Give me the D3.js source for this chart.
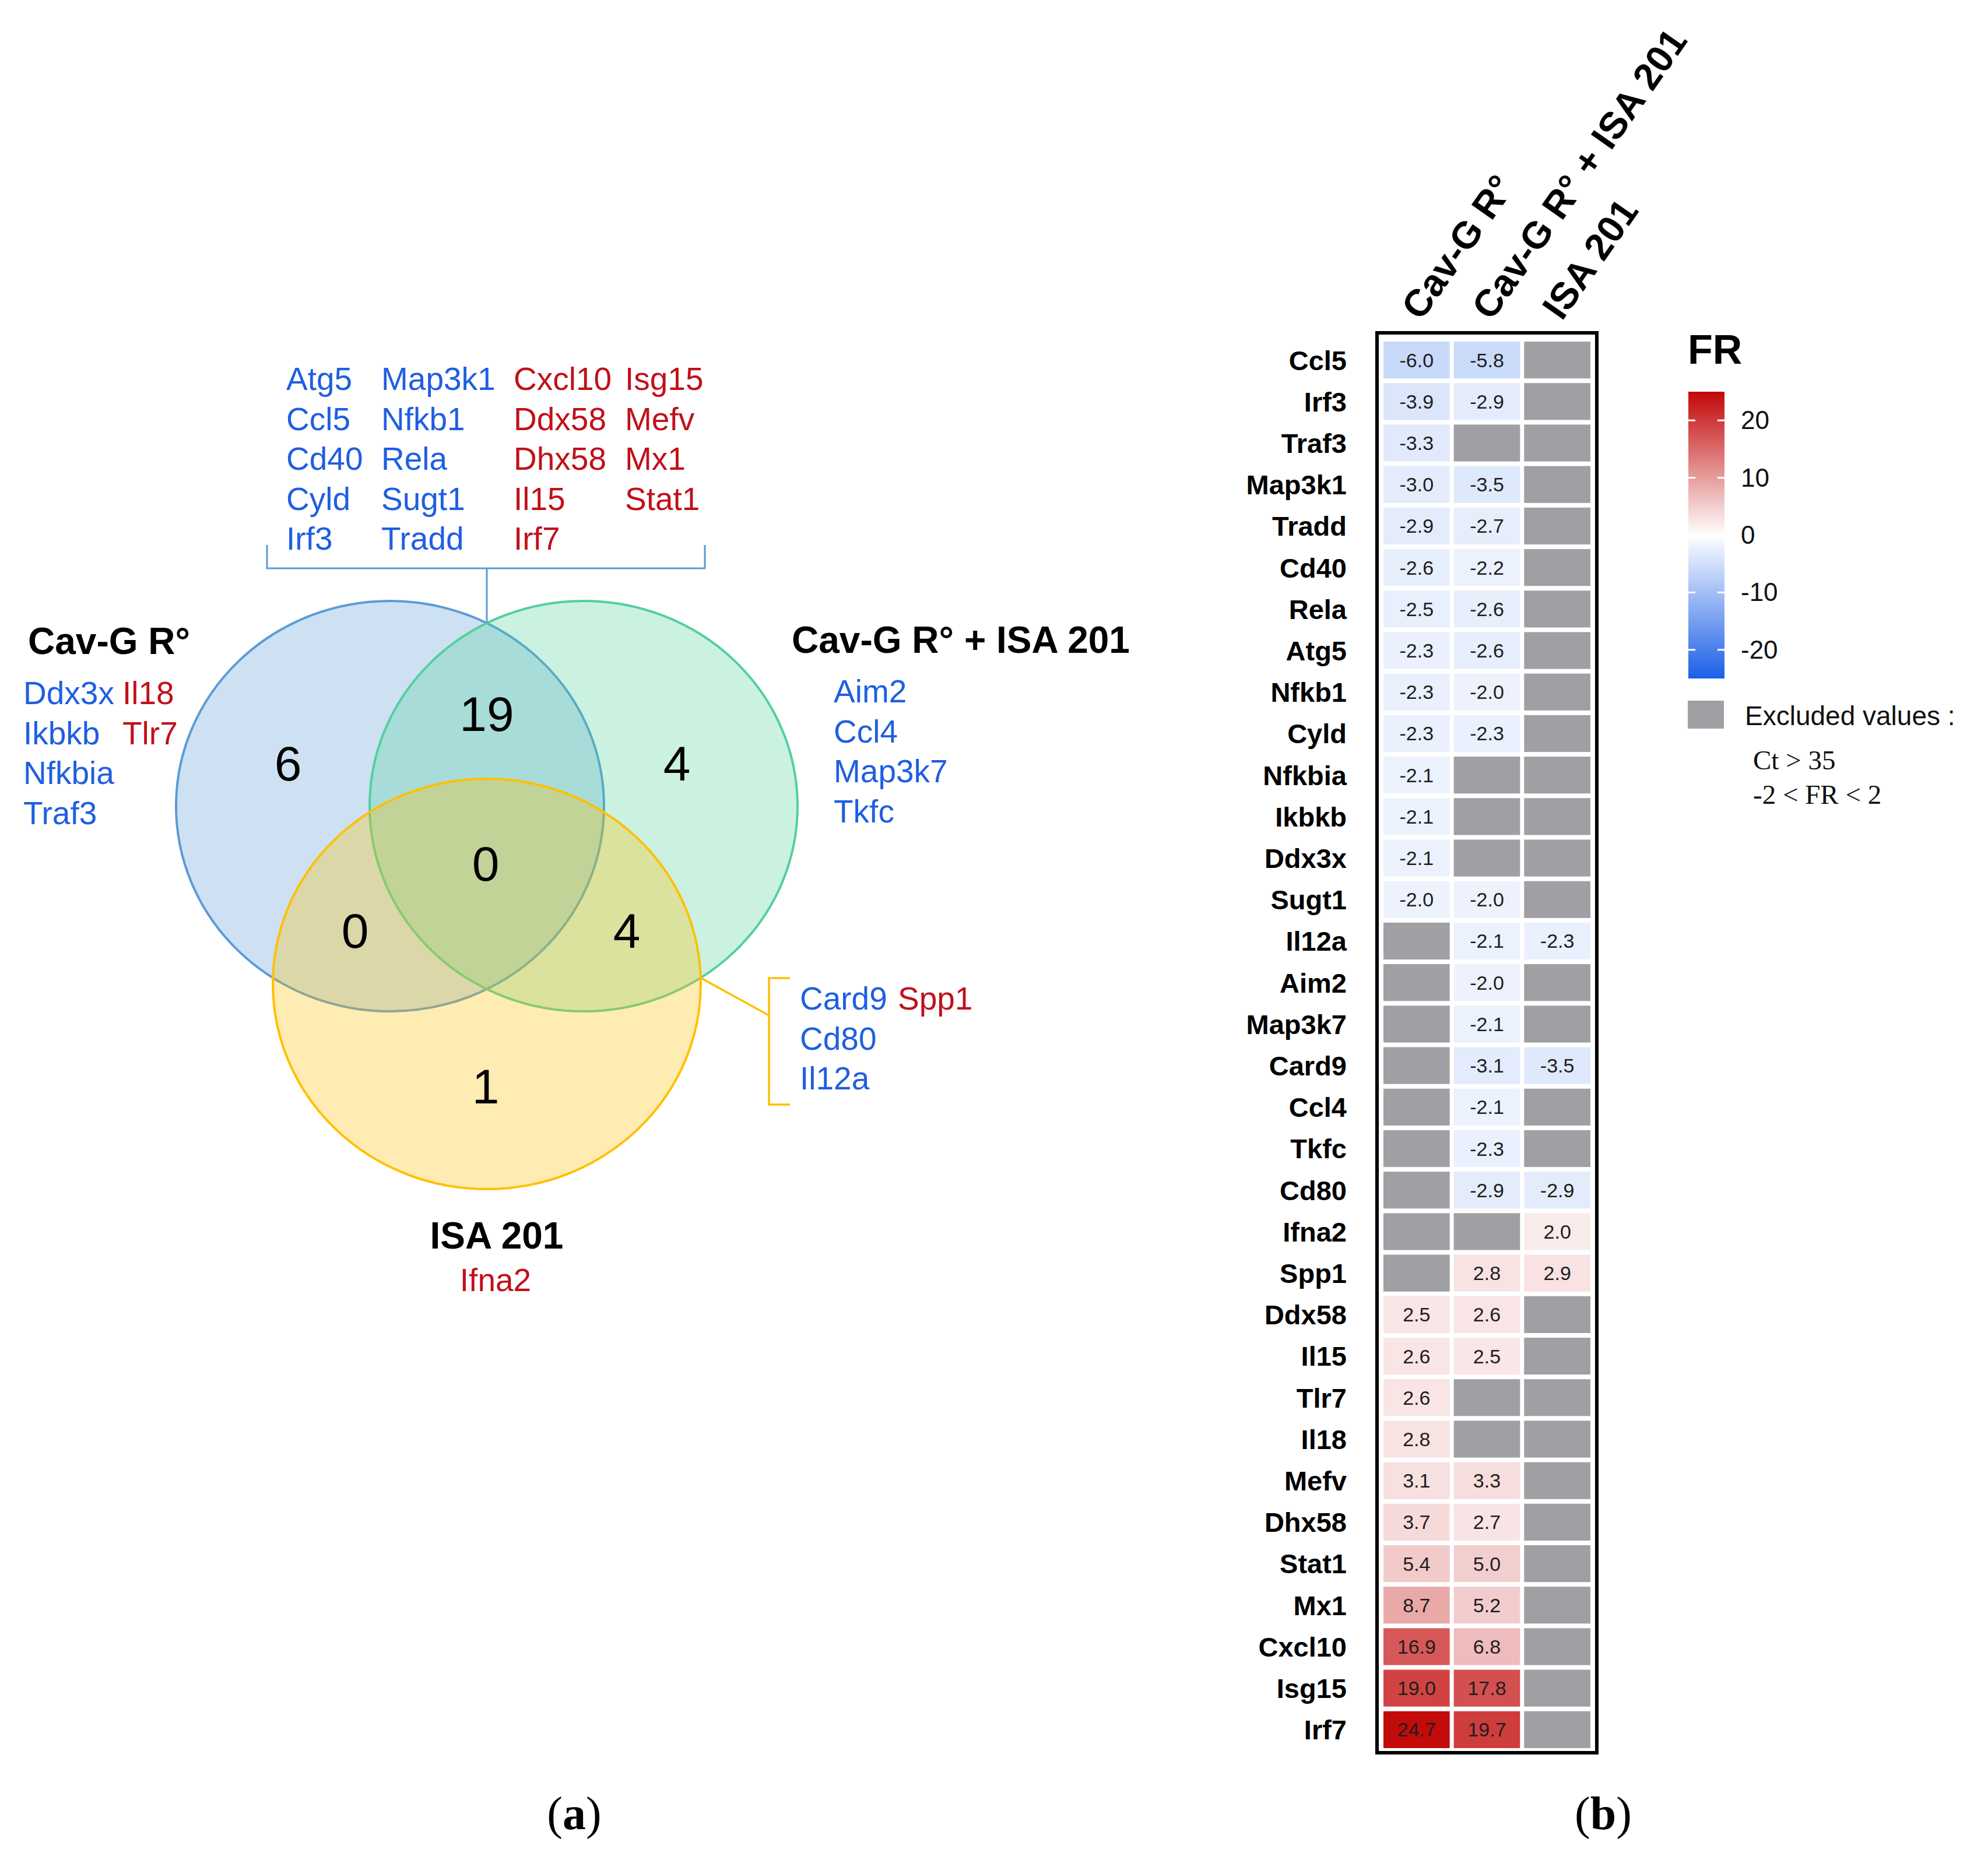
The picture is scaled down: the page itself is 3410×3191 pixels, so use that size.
<!DOCTYPE html>
<html>
<head>
<meta charset="utf-8">
<script src="https://cdn.jsdelivr.net/npm/d3@7"></script>
<style>
body { margin: 0; background: #fff; overflow: hidden; }
text { font-family: "Liberation Sans", Arial, sans-serif; }
text.serif { font-family: "Liberation Serif", "Times New Roman", serif; }
</style>
</head>
<body>
<div class="canva"></div>
<script>
// ---- heatmap data (b) ----
const genes = ["Ccl5","Irf3","Traf3","Map3k1","Tradd","Cd40","Rela","Atg5","Nfkb1","Cyld",
  "Nfkbia","Ikbkb","Ddx3x","Sugt1","Il12a","Aim2","Map3k7","Card9","Ccl4","Tkfc","Cd80",
  "Ifna2","Spp1","Ddx58","Il15","Tlr7","Il18","Mefv","Dhx58","Stat1","Mx1","Cxcl10","Isg15","Irf7"];
const conditions = ["Cav-G R°", "Cav-G R° + ISA 201", "ISA 201"];
// null = excluded value
const frCavG = [-6.0,-3.9,-3.3,-3.0,-2.9,-2.6,-2.5,-2.3,-2.3,-2.3,
  -2.1,-2.1,-2.1,-2.0,null,null,null,null,null,null,null,
  null,null,2.5,2.6,2.6,2.8,3.1,3.7,5.4,8.7,16.9,19.0,24.7];
const frCombo = [-5.8,-2.9,null,-3.5,-2.7,-2.2,-2.6,-2.6,-2.0,-2.3,
  null,null,null,-2.0,-2.1,-2.0,-2.1,-3.1,-2.1,-2.3,-2.9,
  null,2.8,2.6,2.5,null,null,3.3,2.7,5.0,5.2,6.8,17.8,19.7];
const frIsa = [null,null,null,null,null,null,null,null,null,null,
  null,null,null,null,-2.3,null,null,-3.5,null,null,-2.9,
  2.0,2.9,null,null,null,null,null,null,null,null,null,null,null];
const legendTicks = [-20, -10, 0, 10, 20];
const excludedNotes = ["Ct > 35", "-2 < FR < 2"];

// ---- venn data (a) ----
const vennSets = ["Cav-G R°", "Cav-G R° + ISA 201", "ISA 201"];
const genesA = ["Ddx3x","Ikbkb","Nfkbia","Traf3","Il18","Tlr7"];
const genesB = ["Aim2","Ccl4","Map3k7","Tkfc"];
const genesC = ["Ifna2"];
const genesAB = ["Atg5","Ccl5","Cd40","Cyld","Irf3","Map3k1","Nfkb1","Rela","Sugt1","Tradd",
  "Cxcl10","Ddx58","Dhx58","Il15","Irf7","Isg15","Mefv","Mx1","Stat1"];
const genesAC = [];
const genesBC = ["Card9","Cd80","Il12a","Spp1"];
const genesABC = [];

const svg = d3.select(".canva").append("svg")
  .attr("width", 3410)
  .attr("height", 3191);
svg.append("rect").attr("width", 3410).attr("height", 3191).attr("fill", "#fff");

const blueTxt = "#1f5fe0", redTxt = "#c0111a", grey = "#a0a0a4";

// ================= heatmap =================
const cells = [];
genes.forEach(function (g, i) {
  [frCavG, frCombo, frIsa].forEach(function (arr, j) {
    cells.push({ gene: g, cond: conditions[j], value: arr[i] });
  });
});

const x = d3.scaleBand().domain(conditions).range([2369.5, 2731.5])
  .paddingInner(0.058).paddingOuter(0.029);
const y = d3.scaleBand().domain(genes).range([582, 3003])
  .paddingInner(0.112).paddingOuter(0.056);
const color = d3.scaleLinear().domain([-25, 0, 25]).range(["#1a5fe6", "#ffffff", "#c20808"]);

const hm = svg.append("g");
hm.selectAll("rect.cell")
  .data(cells)
  .enter().append("rect")
  .attr("class", "cell")
  .attr("x", d => x(d.cond))
  .attr("y", d => y(d.gene))
  .attr("width", x.bandwidth())
  .attr("height", y.bandwidth())
  .attr("fill", d => d.value === null ? grey : color(d.value));

hm.selectAll("text.val")
  .data(cells.filter(d => d.value !== null))
  .enter().append("text")
  .attr("class", "val")
  .attr("x", d => x(d.cond) + x.bandwidth() / 2)
  .attr("y", d => y(d.gene) + y.bandwidth() / 2 + 12)
  .attr("text-anchor", "middle")
  .attr("font-size", 34)
  .attr("fill", "#1e1e1e")
  .text(d => d.value.toFixed(1));

// frame
hm.append("rect")
  .attr("x", x.range()[0] - 7.5)
  .attr("y", y.range()[0] - 11)
  .attr("width", x.range()[1] - x.range()[0] + 15)
  .attr("height", y.range()[1] - y.range()[0] + 15)
  .attr("fill", "none")
  .attr("stroke", "#000")
  .attr("stroke-width", 6);

// row labels
const yAxis = hm.append("g")
  .attr("transform", "translate(2319,0)")
  .call(d3.axisLeft(y).tickSize(0).tickPadding(9));
yAxis.select(".domain").remove();
yAxis.selectAll("text")
  .attr("font-size", 47)
  .attr("font-weight", "bold")
  .attr("fill", "#000")
  .attr("dy", "0.36em");

// column headers
hm.selectAll("text.head")
  .data(conditions)
  .enter().append("text")
  .attr("class", "head")
  .attr("transform", d => "translate(" + (x(d) + x.bandwidth() / 2 + 8) + ",552) rotate(-55)")
  .attr("font-size", 65)
  .attr("font-weight", "bold")
  .text(d => d);

// legend
const ly = d3.scaleLinear().domain([-25, 25]).range([1164, 672]);
svg.append("text").attr("x", 2895).attr("y", 624)
  .attr("font-size", 70).attr("font-weight", "bold").text("FR");

const grad = svg.append("defs").append("linearGradient")
  .attr("id", "frgrad").attr("x1", 0).attr("y1", 1).attr("x2", 0).attr("y2", 0);
grad.selectAll("stop")
  .data(d3.range(-25, 25.1, 2.5))
  .enter().append("stop")
  .attr("offset", d => (d + 25) / 50)
  .attr("stop-color", d => color(d));

svg.append("rect")
  .attr("x", 2896).attr("y", ly(25))
  .attr("width", 62).attr("height", ly(-25) - ly(25))
  .attr("fill", "url(#frgrad)");

const lt = svg.selectAll("g.ltick").data(legendTicks).enter().append("g")
  .attr("class", "ltick")
  .attr("transform", d => "translate(0," + ly(d) + ")");
lt.append("line").attr("x1", 2896).attr("x2", 2908).attr("stroke", "#fff").attr("stroke-width", 3);
lt.append("line").attr("x1", 2946).attr("x2", 2958).attr("stroke", "#fff").attr("stroke-width", 3);
lt.append("text").attr("x", 2986).attr("y", 15)
  .attr("font-size", 44).attr("fill", "#111").text(d => d);

svg.append("rect").attr("x", 2895).attr("y", 1202).attr("width", 62).attr("height", 48).attr("fill", grey);
svg.append("text").attr("x", 2993).attr("y", 1244)
  .attr("font-size", 46).attr("fill", "#111").text("Excluded values :");
svg.selectAll("text.note")
  .data(excludedNotes)
  .enter().append("text")
  .attr("class", "note serif")
  .attr("x", 3007)
  .attr("y", (d, i) => 1320 + i * 59)
  .attr("font-size", 47)
  .attr("fill", "#111")
  .text(d => d);

// ================= venn =================
const vr = { rx: 367, ry: 352 };
const centers = [[669, 1383], [1001, 1383], [835, 1688]];
const vennStroke = ["#5b9bd5", "#52d09c", "#ffc000"];

const venn = svg.append("g");
venn.selectAll("ellipse")
  .data(vennSets)
  .enter().append("ellipse")
  .attr("cx", (d, i) => centers[i][0])
  .attr("cy", (d, i) => centers[i][1])
  .attr("rx", vr.rx)
  .attr("ry", vr.ry)
  .attr("fill", (d, i) => vennStroke[i])
  .attr("fill-opacity", 0.3)
  .attr("stroke", (d, i) => vennStroke[i])
  .attr("stroke-width", 4);

// region counts, placed relative to the circle centres
const mid = (a, b) => [(a[0] + b[0]) / 2, (a[1] + b[1]) / 2];
const regions = [
  { list: genesA, at: centers[0], off: [-175, -74] },
  { list: genesB, at: centers[1], off: [160, -74] },
  { list: genesC, at: centers[2], off: [-2, 175] },
  { list: genesAB, at: mid(centers[0], centers[1]), off: [0, -159] },
  { list: genesABC, at: [835, 1483], off: [-2, -2] },
  { list: genesAC, at: mid(centers[0], centers[2]), off: [-143, 60] },
  { list: genesBC, at: mid(centers[1], centers[2]), off: [157, 60] }
];
venn.selectAll("text.count")
  .data(regions)
  .enter().append("text")
  .attr("class", "count")
  .attr("x", d => d.at[0] + d.off[0])
  .attr("y", d => d.at[1] + d.off[1] + 30)
  .attr("text-anchor", "middle")
  .attr("font-size", 84)
  .attr("fill", "#000")
  .text(d => d.list.length);

// set titles
const titlePos = [[48, 1122, "start"], [1358, 1120, "start"], [852, 2142, "middle"]];
venn.selectAll("text.title")
  .data(vennSets)
  .enter().append("text")
  .attr("class", "title")
  .attr("x", (d, i) => titlePos[i][0])
  .attr("y", (d, i) => titlePos[i][1])
  .attr("text-anchor", (d, i) => titlePos[i][2])
  .attr("font-size", 64)
  .attr("font-weight", "bold")
  .text(d => d);

// gene lists, coloured by the sign of their FR
function geneFR(g) {
  const i = genes.indexOf(g);
  return [frCavG[i], frCombo[i], frIsa[i]].find(v => v !== null);
}
function layoutGenes(list, perCol) {
  const blue = list.filter(g => geneFR(g) < 0), red = list.filter(g => geneFR(g) > 0);
  const bc = Math.ceil(blue.length / perCol);
  return blue.map((g, i) => ({ gene: g, col: Math.floor(i / perCol), row: i % perCol }))
    .concat(red.map((g, i) => ({ gene: g, col: bc + Math.floor(i / perCol), row: i % perCol })));
}
const geneBlocks = [
  { list: genesAB, perCol: 5, cols: [491, 654, 881, 1072], y0: 669, anchor: "start" },
  { list: genesA, perCol: 4, cols: [40, 210], y0: 1208, anchor: "start" },
  { list: genesB, perCol: 4, cols: [1430], y0: 1205, anchor: "start" },
  { list: genesBC, perCol: 3, cols: [1372, 1540], y0: 1732, anchor: "start" },
  { list: genesC, perCol: 1, cols: [850], y0: 2215, anchor: "middle" }
];
geneBlocks.forEach(function (b) {
  venn.append("g").selectAll("text")
    .data(layoutGenes(b.list, b.perCol))
    .enter().append("text")
    .attr("x", d => b.cols[d.col])
    .attr("y", d => b.y0 + d.row * 68.5)
    .attr("text-anchor", b.anchor)
    .attr("font-size", 55)
    .attr("fill", d => geneFR(d.gene) < 0 ? blueTxt : redTxt)
    .text(d => d.gene);
});

// intersection points of two of the ellipses
function meet(p, q) {
  const k = vr.rx / vr.ry, r = vr.rx;
  const x1 = p[0], y1 = p[1] * k, dx = q[0] - x1, dy = q[1] * k - y1;
  const d = Math.hypot(dx, dy), h = Math.sqrt(r * r - d * d / 4);
  const mx = x1 + dx / 2, my = y1 + dy / 2;
  return [[mx - h * dy / d, (my + h * dx / d) / k], [mx + h * dy / d, (my - h * dx / d) / k]];
}
const topMeet = meet(centers[0], centers[1]).sort((a, b) => a[1] - b[1])[0];
const rightMeet = meet(centers[1], centers[2]).sort((a, b) => b[0] - a[0])[0];

const line = d3.line();
venn.append("path")
  .attr("d", line([[458, 935], [458, 975], [1209, 975], [1209, 935]]))
  .attr("fill", "none").attr("stroke", "#5b9bd5").attr("stroke-width", 3);
venn.append("path")
  .attr("d", line([[topMeet[0], 975], topMeet]))
  .attr("fill", "none").attr("stroke", "#5b9bd5").attr("stroke-width", 3);
venn.append("path")
  .attr("d", line([[1355, 1678], [1319, 1678], [1319, 1895], [1355, 1895]]))
  .attr("fill", "none").attr("stroke", "#ffc000").attr("stroke-width", 3.5);
venn.append("path")
  .attr("d", line([rightMeet, [1319, 1742]]))
  .attr("fill", "none").attr("stroke", "#ffc000").attr("stroke-width", 3.5);

// panel letters
[["a", 985], ["b", 2750]].forEach(function (p) {
  const t = svg.append("text")
    .attr("class", "serif")
    .attr("x", p[1]).attr("y", 3138)
    .attr("text-anchor", "middle")
    .attr("font-size", 80);
  t.append("tspan").text("(");
  t.append("tspan").attr("font-weight", "bold").text(p[0]);
  t.append("tspan").text(")");
});
</script>
</body>
</html>
